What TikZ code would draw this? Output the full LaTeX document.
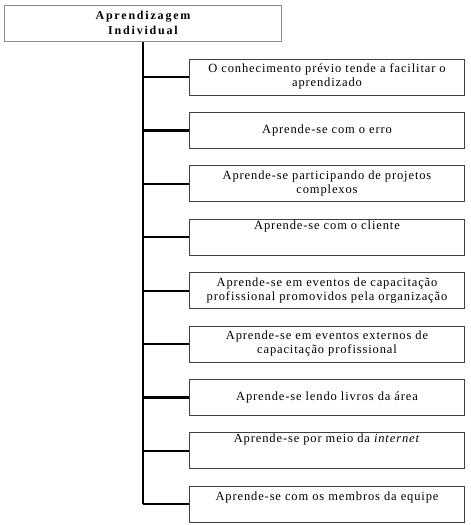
\documentclass[tikz,border=0pt]{standalone}
\usepackage{fontspec}
\newfontfamily\boxfont[LetterSpace=7]{Liberation Serif}
\newfontfamily\titlefont[LetterSpace=15]{Liberation Serif}
\begin{document}
\begin{tikzpicture}[x=1pt,y=-1pt,
  box/.style={draw=black!75, line width=1pt, minimum width=275pt, minimum height=36pt,
    inner sep=0pt, align=center, anchor=north west,
    font=\boxfont\fontsize{12.5}{14}\selectfont},
  topbox/.style={draw=black!45, line width=1pt, minimum width=277pt, minimum height=36pt,
    inner sep=0pt, align=center, anchor=north west,
    font=\titlefont\bfseries\fontsize{12}{15}\selectfont},
  spine/.style={line width=2.4pt, black},
  conn/.style={line width=2.2pt, black}]
\fill[white] (0,0) rectangle (471,525);
\useasboundingbox (0,0) rectangle (471,525);
\node[topbox] (top) at (4,5) {\strut Aprendizagem\\\strut Individual};
\node[box] (b1) at (189,58.5) {\strut O conhecimento prévio tende a facilitar o\\\strut aprendizado};
\node[box] (b2) at (189,111.9) {\strut Aprende-se com o erro};
\node[box] (b3) at (189,165.3) {\strut Aprende-se participando de projetos\\\strut complexos};
\node[box] (b4) at (189,218.7) {\strut Aprende-se com o cliente\\[8pt]\strut};
\node[box] (b5) at (189,272.1) {\strut Aprende-se em eventos de capacitação\\\strut profissional promovidos pela organização};
\node[box] (b6) at (189,325.5) {\strut Aprende-se em eventos externos de\\\strut capacitação profissional};
\node[box] (b7) at (189,378.9) {\strut Aprende-se lendo livros da área};
\node[box] (b8) at (189,432.3) {\strut Aprende-se por meio da \textit{internet}\\[8pt]\strut};
\node[box] (b9) at (189,485.7) {\strut Aprende-se com os membros da equipe\\\strut};
\draw[spine] (top.south) -- (top.south |- b9.west);
\foreach \i in {1,...,9}{
  \draw[conn] (b\i.west) -- (b\i.west -| top.south);
}
\end{tikzpicture}
\end{document}
